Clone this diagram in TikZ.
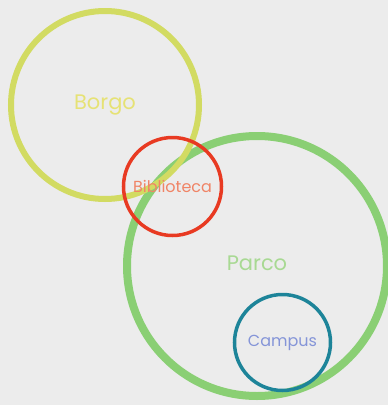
\documentclass[tikz,border=0pt]{standalone}
\usepackage{fontspec}
\setmainfont{Poppins}
\usetikzlibrary{positioning}

\definecolor{bgcol}{HTML}{ECECEC}
\definecolor{borgoring}{HTML}{D2DB62}
\definecolor{borgotext}{HTML}{E6E275}
\definecolor{bibring}{HTML}{E83A22}
\definecolor{bibtext}{HTML}{F08466}
\definecolor{parcoring}{HTML}{8ACF74}
\definecolor{parcotext}{HTML}{A8D993}
\definecolor{campusring}{HTML}{1D8499}
\definecolor{campustext}{HTML}{8595D8}

\begin{document}
\begin{tikzpicture}[
        x=1pt, y=-1pt,
        place/.style={
            circle,
            inner sep=0pt,
            align=center
        },
        big/.style={place, font=\fontsize{21}{23}\selectfont},
        small/.style={place, font=\fontsize{16}{18}\selectfont}
    ]
        \fill[bgcol] (0,0) rectangle (388,405);
        \useasboundingbox (0,0) rectangle (388,405);

        \node[big, draw=parcoring, line width=8pt, minimum size=260pt,
            text=parcotext] (parco) at (257,266) {\raisebox{5pt}{Parco}};
        \node[big, draw=borgoring, line width=6pt, minimum size=188pt,
            text=borgotext] (borgo) at (105,105) {Borgo};
        \node[small, draw=bibring, line width=3.5pt, minimum size=98pt,
            text=bibtext] (biblio) at (172.5,186.5) {Biblioteca};
        \node[small, draw=campusring, line width=3.5pt, minimum size=96pt,
            text=campustext] (campus) at (282.5,342.5) {Campus};
    \end{tikzpicture}
\end{document}
